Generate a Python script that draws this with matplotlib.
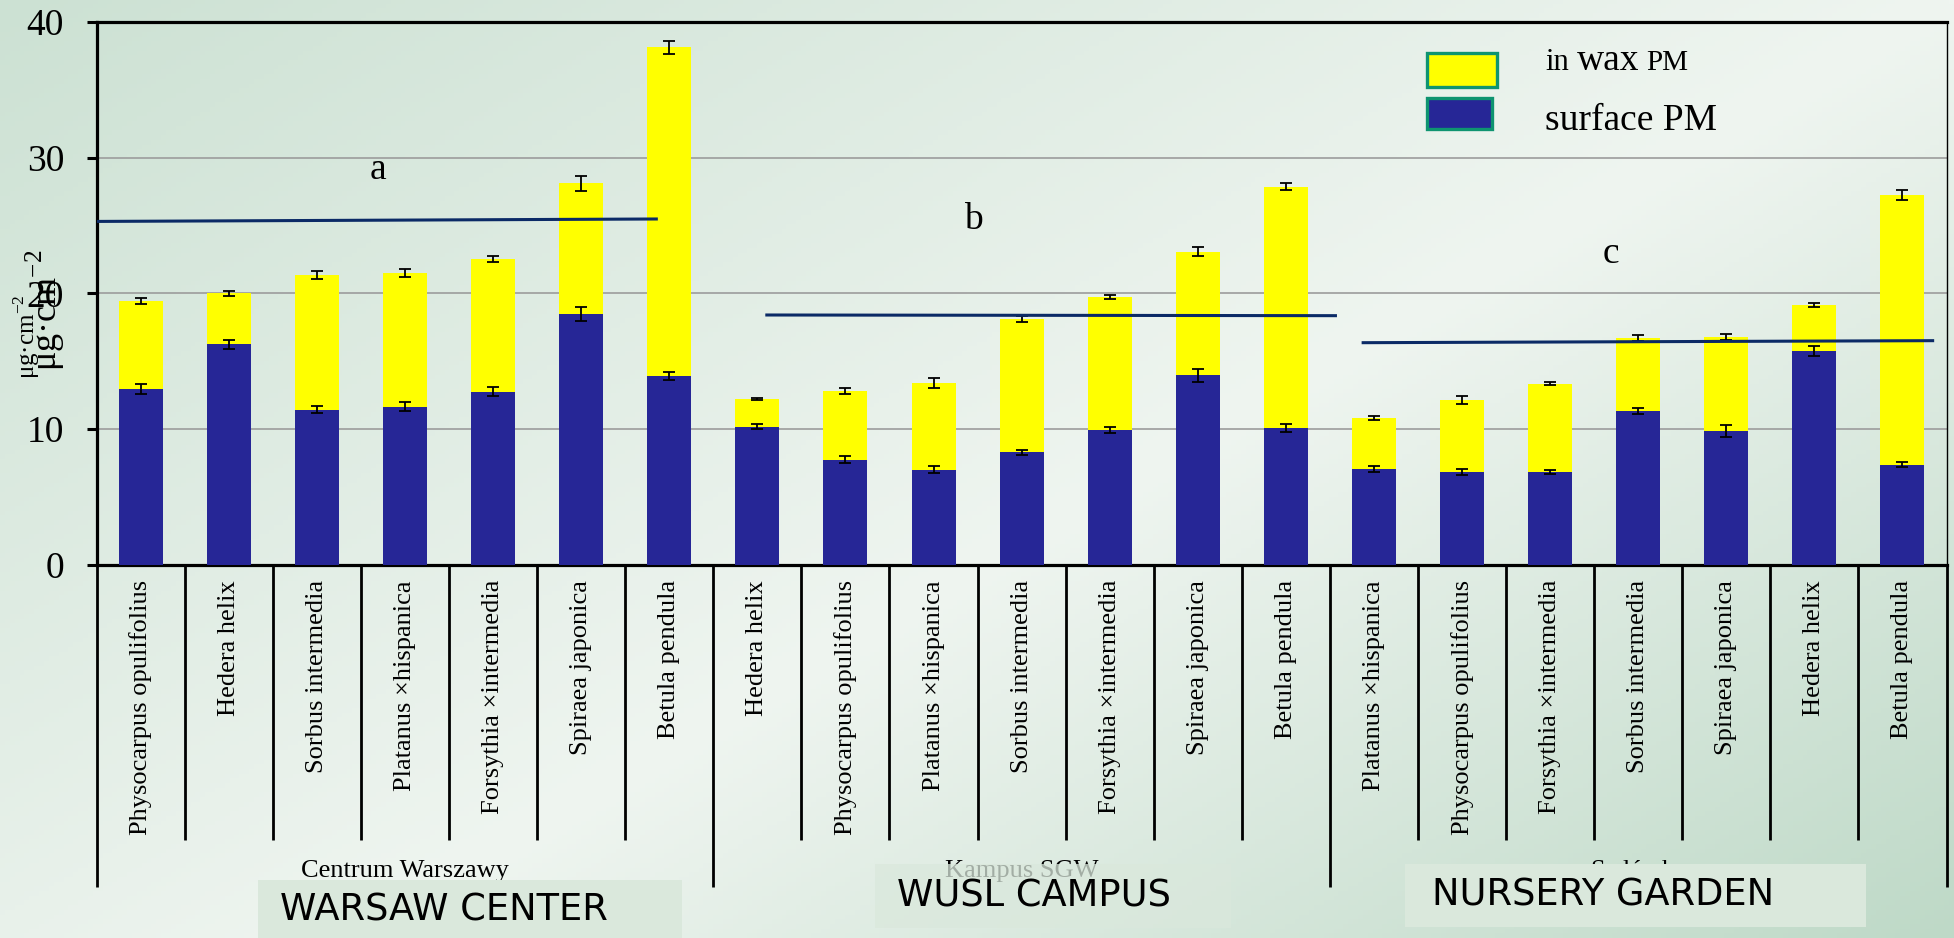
import numpy as np
import matplotlib
matplotlib.use("Agg")
import matplotlib.pyplot as plt
from matplotlib.patches import Rectangle
from matplotlib.transforms import blended_transform_factory

plt.rcParams["font.family"] = ["Liberation Serif", "DejaVu Serif"]
plt.rcParams["mathtext.fontset"] = "custom"
plt.rcParams["mathtext.rm"] = "Liberation Serif"

# ---------------------------------------------------------------- data
sites = ["Centrum Warszawy", "Kampus SGW", "Sadówka"]
site_titles = ["WARSAW CENTER", "WUSL CAMPUS", "NURSERY GARDEN"]

species = [
    "Physocarpus opulifolius", "Hedera helix", "Sorbus intermedia",
    "Platanus \u00d7hispanica", "Forsythia \u00d7intermedia", "Spiraea japonica",
    "Betula pendula",
    "Hedera helix", "Physocarpus opulifolius", "Platanus \u00d7hispanica",
    "Sorbus intermedia", "Forsythia \u00d7intermedia", "Spiraea japonica",
    "Betula pendula",
    "Platanus \u00d7hispanica", "Physocarpus opulifolius", "Forsythia \u00d7intermedia",
    "Sorbus intermedia", "Spiraea japonica", "Hedera helix", "Betula pendula",
]

surface_pm = [12.96, 16.25, 11.44, 11.66, 12.76, 18.50, 13.92,
              10.19, 7.74, 7.01, 8.29, 9.94, 13.97, 10.09,
              7.10, 6.83, 6.83, 11.34, 9.87, 15.76, 7.38]
surface_err = [0.37, 0.34, 0.27, 0.34, 0.34, 0.52, 0.29,
               0.18, 0.25, 0.25, 0.20, 0.21, 0.48, 0.27,
               0.22, 0.22, 0.15, 0.21, 0.47, 0.34, 0.18]

wax_pm = [6.48, 3.75, 9.91, 9.84, 9.77, 9.60, 24.20,
          2.03, 5.07, 6.39, 9.82, 9.79, 9.10, 17.77,
          3.70, 5.32, 6.50, 5.38, 6.92, 3.39, 19.89]
wax_err = [0.23, 0.17, 0.29, 0.26, 0.20, 0.55, 0.47,
           0.09, 0.22, 0.34, 0.20, 0.15, 0.34, 0.28,
           0.15, 0.29, 0.11, 0.23, 0.23, 0.16, 0.37]

group_letters = ["a", "b", "c"]
group_level_start = [25.30, 18.41, 16.37]
group_level_end = [25.48, 18.36, 16.52]

# ---------------------------------------------------------------- layout
W, H, DPI = 1954, 938, 100
n = len(species)
per_site = 7

def fx(px):
    return px / W

def fy(py):
    return 1 - py / H

fig = plt.figure(figsize=(W / DPI, H / DPI), dpi=DPI)

# slide background: soft diagonal green gradient
bg = fig.add_axes([0, 0, 1, 1], zorder=-10)
gx, gy = np.meshgrid(np.linspace(0, 1, 400), np.linspace(0, 1, 200))
d = 0.55 * gx + 0.45 * gy
c_dark1 = np.array([204, 225, 211]) / 255
c_light = np.array([239, 245, 240]) / 255
c_dark2 = np.array([190, 217, 199]) / 255
t1 = np.clip(d / 0.55, 0, 1)[..., None]
t2 = np.clip((d - 0.55) / 0.45, 0, 1)[..., None]
img = np.where(d[..., None] <= 0.55,
               c_dark1 + (c_light - c_dark1) * t1,
               c_light + (c_dark2 - c_light) * t2)
bg.imshow(img, aspect="auto", extent=[0, 1, 0, 1], origin="upper")
bg.set_axis_off()

ax_left, ax_right = 96.75, 1946.5
ax_top, ax_bottom = 21.8, 565.0
ax = fig.add_axes([fx(ax_left), fy(ax_bottom),
                   (ax_right - ax_left) / W, (ax_bottom - ax_top) / H])
ax.set_facecolor("none")

x = np.arange(n)
blue = "#262696"
yellow = "#ffff00"
ax.bar(x, surface_pm, width=0.5, color=blue, zorder=3)
ax.bar(x, wax_pm, width=0.5, bottom=surface_pm, color=yellow, zorder=3)

totals = np.array(surface_pm) + np.array(wax_pm)
ekw = dict(fmt="none", ecolor="black", elinewidth=1.3, capsize=4.3,
           capthick=1.3, zorder=4)
ax.errorbar(x, surface_pm, yerr=surface_err, **ekw)
ax.errorbar(x, totals, yerr=wax_err, **ekw)

ax.set_xlim(-0.5, n - 0.5)
ax.set_ylim(0, 40)
ax.set_yticks([0, 10, 20, 30, 40])
ax.set_xticks([])
ax.tick_params(axis="y", direction="out", length=7.5, width=2.2, pad=16,
               labelsize=27, colors="black")
for yv in (10, 20, 30):
    ax.axhline(yv, color="#9c9c9c", lw=1.2, zorder=1)
for side in ("left", "bottom", "top"):
    ax.spines[side].set_linewidth(2.3)
ax.spines["right"].set_linewidth(1.0)

# group level lines and letters
line_x = [(-0.5, 5.87), (7.09, 13.58), (13.86, 20.36)]
letter_pos = [(2.69, 29.1), (9.45, 25.4), (16.69, 22.9)]
for (xa, xb), y0, y1, lt, (lx, ly) in zip(line_x, group_level_start,
                                          group_level_end, group_letters,
                                          letter_pos):
    ax.plot([xa, xb], [y0, y1], color="#0b2a66", lw=2.2, zorder=5,
            solid_capstyle="butt")
    ax.text(lx, ly, lt, fontsize=27, ha="center", va="center", zorder=6)

# category axis below the plot
tr = blended_transform_factory(ax.transData, fig.transFigure)
for b in range(n + 1):
    y_end = 886.7 if b % per_site == 0 else 840.0
    ax.plot([b - 0.5, b - 0.5], [fy(ax_bottom), fy(y_end)], transform=tr,
            color="black", lw=2.0, clip_on=False, solid_capstyle="butt")
for i, name in enumerate(species):
    ax.text(i, fy(580), name, rotation=90, ha="center", va="top",
            fontsize=19, transform=tr, clip_on=False)
for g, site in enumerate(sites):
    cx = g * per_site + (per_site - 1) / 2
    ax.text(cx, fy(871), site, ha="center", va="center", fontsize=19,
            transform=tr, clip_on=False)

# site title boxes
boxes = [(258, 880, 682, 940), (875, 864, 1231, 928), (1405, 864, 1866, 927)]
box_alpha = [1.0, 0.75, 1.0]
title_xy = [(280, 910), (897, 896), (1432, 895)]
for (x0, y0, x1, y1), a, (tx, ty), title in zip(boxes, box_alpha, title_xy,
                                                site_titles):
    fig.add_artist(Rectangle((fx(x0), fy(y1)), fx(x1 - x0), (y1 - y0) / H,
                             transform=fig.transFigure, facecolor="#dae8dc",
                             edgecolor="none", alpha=a, zorder=8))
    fig.text(fx(tx), fy(ty), title, family="DejaVu Sans", fontsize=26.5,
             ha="left", va="center", zorder=9)

# legend
leg_patches = [((1426.8, 52.7, 1496.7, 87.3), yellow),
               ((1426.8, 98.0, 1492.4, 128.7), blue)]
for (x0, y0, x1, y1), col in leg_patches:
    fig.add_artist(Rectangle((fx(x0), fy(y1)), fx(x1 - x0), (y1 - y0) / H,
                             transform=fig.transFigure, facecolor=col,
                             edgecolor="#0e9470", lw=2.4, zorder=8))
fig.text(fx(1545), fy(70), "in", fontsize=22, ha="left", va="baseline")
fig.text(fx(1577), fy(70), "wax", fontsize=27, ha="left", va="baseline")
fig.text(fx(1646), fy(70), "PM", fontsize=21, ha="left", va="baseline")
fig.text(fx(1545), fy(130), "surface PM", fontsize=27, ha="left",
         va="baseline")

# y-axis unit labels (two overlapping copies)
fig.text(fx(45), fy(310), "\u03bcg\u00b7cm$^{-2}$", rotation=90, fontsize=26,
         ha="center", va="center")
fig.text(fx(27), fy(337), "\u03bcg\u00b7cm$^{-2}$", rotation=90, fontsize=18,
         ha="center", va="center")

fig.savefig("out.png", dpi=DPI)
